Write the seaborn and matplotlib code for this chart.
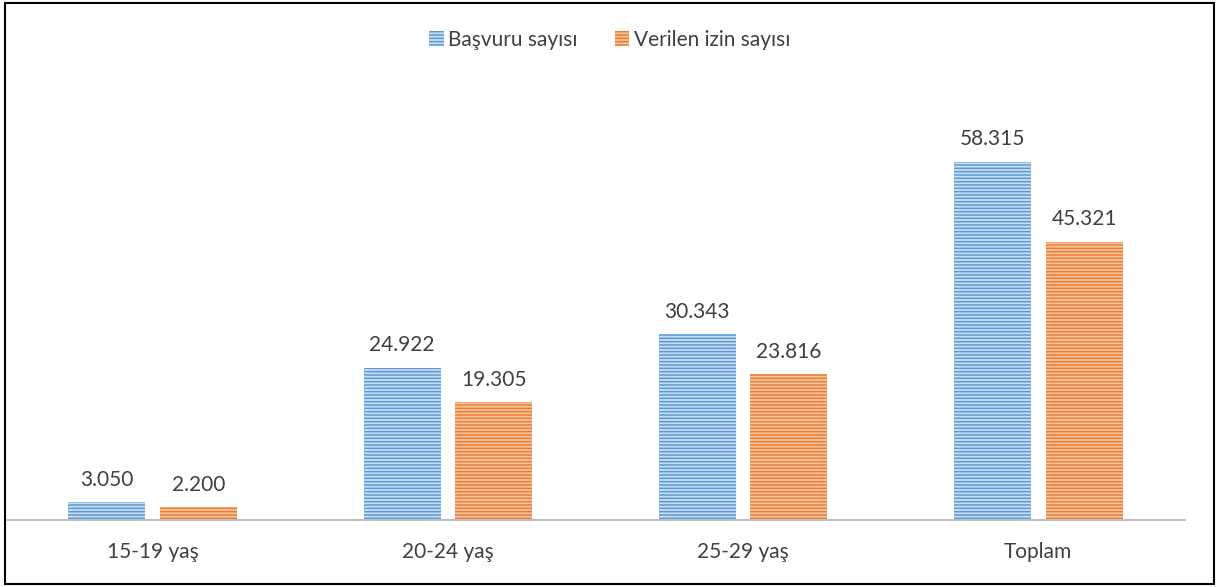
import numpy as np
import pandas as pd
import matplotlib
matplotlib.use("Agg")
import matplotlib.pyplot as plt
from matplotlib.patches import Patch, Rectangle
import seaborn as sns

categories = ["15-19 yaş", "20-24 yaş", "25-29 yaş", "Toplam"]
basvuru = [3050, 24922, 30343, 58315]
verilen = [2200, 19305, 23816, 45321]
series_names = ["Başvuru sayısı", "Verilen izin sayısı"]

df = pd.DataFrame({
    "kategori": categories * 2,
    "deger": basvuru + verilen,
    "seri": [series_names[0]] * 4 + [series_names[1]] * 4,
})

sns.set_style("white")
plt.rcParams["font.family"] = ["Lato", "DejaVu Sans"]
plt.rcParams["hatch.linewidth"] = 1.1

# stripe colour, fill colour
colors = {series_names[0]: ("#5B9BD5", "#C9DDF1"),
          series_names[1]: ("#ED7D31", "#F7C3A0")}
text_col = "#404040"
fs = 15

fig = plt.figure(figsize=(12.19, 5.87), dpi=100)
ax = fig.add_axes([5 / 1219, 66 / 587, 1181 / 1219, 431 / 587])

sns.barplot(data=df, x="kategori", y="deger", hue="seri", order=categories,
            hue_order=series_names, width=0.62, gap=0.16, ax=ax, legend=False,
            palette=[colors[s][1] for s in series_names])

for i, cont in enumerate(ax.containers):
    stripe, fill = colors[series_names[i]]
    for bar in cont:
        bar.set_facecolor(fill)
        bar.set_edgecolor(stripe)
        bar.set_hatch("-----")
        bar.set_linewidth(0)
    labels = [f"{v:,.0f}".replace(",", ".") for v in cont.datavalues]
    ax.bar_label(cont, labels=labels, padding=9, fontsize=fs, color=text_col)

ax.set_ylim(0, 70000)
ax.set_xlim(-0.5, 3.5)
ax.axhline(0, color="#BFBFBF", lw=3, zorder=5)
sns.despine(ax=ax, left=True, bottom=True)
ax.set_yticks([])
ax.set_xlabel("")
ax.set_ylabel("")
ax.tick_params(axis="x", length=0, pad=15, labelsize=fs, labelcolor=text_col)

handles = [Patch(facecolor=colors[s][1], edgecolor=colors[s][0], hatch="-----", lw=0)
           for s in series_names]
fig.legend(handles, series_names, loc="center", bbox_to_anchor=(0.5, 1 - 40 / 587),
           ncol=2, frameon=False, fontsize=fs, labelcolor=text_col,
           handlelength=0.7, handleheight=0.7, handletextpad=0.2, columnspacing=1.8)

fig.add_artist(Rectangle((5 / 1219, 3 / 587), 1209 / 1219, 581 / 587,
                         transform=fig.transFigure, fill=False, edgecolor="black", lw=1.5))

fig.savefig("out.png", dpi=100)
